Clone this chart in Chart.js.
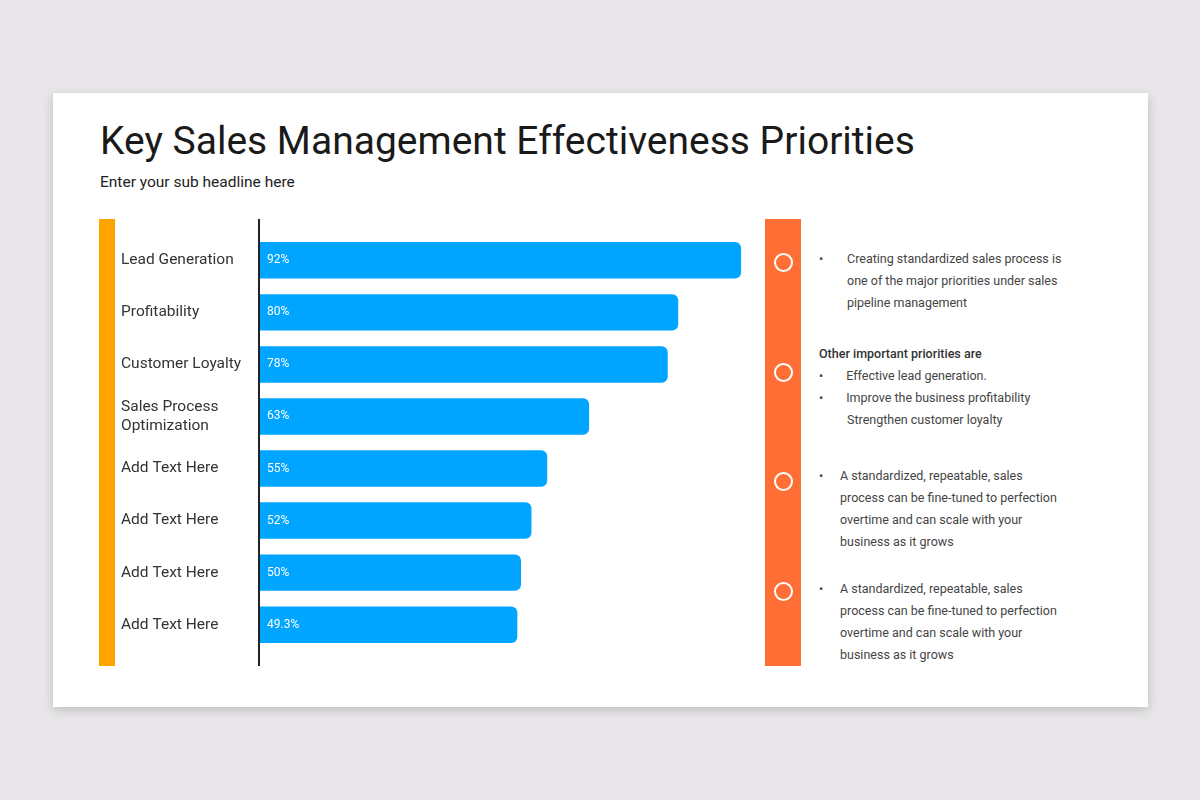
<!DOCTYPE html>
<html><head><meta charset="utf-8">
<script src="https://cdn.jsdelivr.net/npm/chart.js@4"></script>
<style>
body{margin:0;width:1200px;height:800px;background:#e8e6e8;font-family:Roboto,sans-serif;position:relative;overflow:hidden}
.card{position:absolute;left:53px;top:93px;width:1095px;height:614px;background:#fff;box-shadow:0 3px 10px rgba(0,0,0,.18)}
h1{position:absolute;left:100px;top:118px;margin:0;font-weight:400;font-size:39px;color:#1a1a1a}
.sub{position:absolute;left:100px;top:173px;font-size:15.5px;color:#222}
.lbar{position:absolute;left:99px;top:219px;width:16px;height:447px;background:#ffa500}
.rbar{position:absolute;left:765px;top:219px;width:36px;height:447px;background:#ff6f35}
.axis{position:absolute;left:258px;top:219px;width:1.5px;height:447px;background:#222}
.c{position:absolute;left:774px;width:15px;height:15px;border:2px solid #fff;border-radius:50%}
#chart{position:absolute;left:121px;top:219px}
.t{position:absolute;font-size:12.5px;color:#444;line-height:22px}
.t b{color:#333;font-weight:500}
.bl{position:absolute;left:0}
</style></head><body>
<div class="card"></div>
<h1>Key Sales Management Effectiveness Priorities</h1>
<div class="sub">Enter your sub headline here</div>
<div class="lbar"></div>
<div class="rbar"></div>
<div class="c" style="top:253px"></div><div class="c" style="top:363px"></div>
<div class="c" style="top:472px"></div><div class="c" style="top:582px"></div>
<canvas id="chart" width="662" height="447"></canvas>
<div class="axis"></div>
<div class="t" style="left:819px;top:248px;width:250px"><span class="bl">•</span><div style="margin-left:28px">Creating standardized sales process is one of the major priorities under sales pipeline management</div></div>
<div class="t" style="left:819px;top:343px;width:250px"><b>Other important priorities are</b><br><span>•</span><span style="margin-left:23px">Effective lead generation.</span><br><span>•</span><span style="margin-left:23px">Improve the business profitability</span><br><span style="margin-left:28px">Strengthen customer loyalty</span></div>
<div class="t" style="left:819px;top:465px;width:240px"><span class="bl">•</span><div style="margin-left:21px">A standardized, repeatable, sales process can be fine-tuned to perfection overtime and can scale with your business as it grows</div></div>
<div class="t" style="left:819px;top:578px;width:240px"><span class="bl">•</span><div style="margin-left:21px">A standardized, repeatable, sales process can be fine-tuned to perfection overtime and can scale with your business as it grows</div></div>
<script>
const categories = ["Lead Generation", "Profitability", "Customer Loyalty", ["Sales Process", "Optimization"], "Add Text Here", "Add Text Here", "Add Text Here", "Add Text Here"];
const values = [92, 80, 78, 63, 55, 52, 50, 49.3];
const valueLabels = ["92%", "80%", "78%", "63%", "55%", "52%", "50%", "49.3%"];

const inBarLabels = {
  id: 'inBarLabels',
  afterDatasetsDraw(chart) {
    const ctx = chart.ctx;
    ctx.save();
    ctx.fillStyle = '#fff';
    ctx.font = '12px Roboto';
    ctx.textBaseline = 'middle';
    chart.getDatasetMeta(0).data.forEach((bar, i) => {
      ctx.fillText(valueLabels[i], bar.base + 8, bar.y);
    });
    ctx.restore();
  }
};

new Chart(document.getElementById('chart'), {
  type: 'bar',
  data: {
    labels: categories,
    datasets: [{
      data: values,
      backgroundColor: '#00a5ff',
      borderRadius: {topRight: 6, bottomRight: 6},
      borderSkipped: false,
      barPercentage: 0.7,
      categoryPercentage: 1
    }]
  },
  options: {
    indexAxis: 'y',
    responsive: false,
    animation: false,
    layout: {padding: {top: 11.5, bottom: 11.5, left: 0, right: 0}},
    plugins: {legend: {display: false}, tooltip: {enabled: false}},
    scales: {
      x: {min: 0, max: 100, display: false},
      y: {
        grid: {display: false},
        border: {display: false},
        ticks: {crossAlign: 'far', padding: 6, color: '#333', font: {family: 'Roboto', size: 15.5}},
        afterFit(scale) { scale.width = 138; }
      }
    }
  },
  plugins: [inBarLabels]
});
</script>
</body></html>
